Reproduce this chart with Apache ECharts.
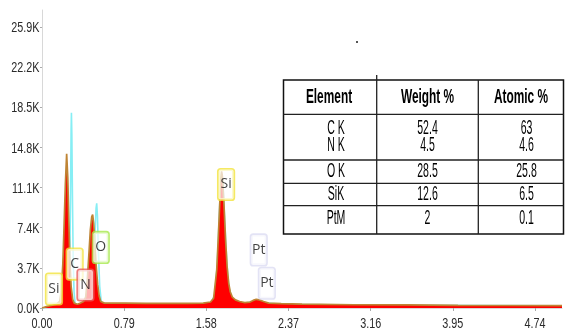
<!DOCTYPE html>
<html>
<head>
<meta charset="utf-8">
<script src="https://cdn.jsdelivr.net/npm/echarts@6/dist/echarts.min.js"></script>
<style>
html,body{margin:0;padding:0;background:#fff;}
#chart{width:566px;height:334px;}
</style>
</head>
<body>
<div id="chart"></div>
<script>
// ---- data (energy in keV, counts in thousands) ----
const redEnergy = [0.00,0.05,0.10,0.14,0.17,0.185,0.20,0.212,0.225,0.237,0.248,0.258,0.268,0.28,0.295,0.31,0.34,0.37,0.40,0.42,0.435,0.45,0.465,0.478,0.487,0.497,0.508,0.52,0.535,0.55,0.565,0.60,0.70,0.80,1.00,1.20,1.40,1.55,1.62,1.65,1.68,1.695,1.71,1.72,1.727,1.735,1.75,1.765,1.78,1.795,1.81,1.83,1.86,1.90,1.95,2.00,2.03,2.06,2.09,2.13,2.18,2.30,2.50,3.00,3.50,4.00,4.50,5.00];
const redCounts = [0.0,0.15,0.25,0.35,0.6,1.5,4.0,7.5,11.5,14.2,12.0,8.0,4.5,2.0,0.8,0.45,0.35,0.45,0.6,1.0,2.5,4.8,7.2,8.4,8.6,7.8,6.0,4.0,2.2,1.1,0.6,0.45,0.45,0.45,0.42,0.42,0.42,0.45,0.55,0.9,3.5,6.5,9.8,12.0,12.6,12.1,9.5,6.3,3.8,2.3,1.5,1.0,0.75,0.6,0.5,0.55,0.7,0.8,0.75,0.6,0.45,0.4,0.35,0.3,0.28,0.25,0.23,0.22];

const cyanEnergy = [0.00,0.10,0.20,0.25,0.26,0.268,0.275,0.28,0.283,0.287,0.293,0.30,0.308,0.318,0.35,0.40,0.45,0.48,0.495,0.508,0.52,0.526,0.533,0.543,0.555,0.57,0.60,1.00,1.50,1.62,1.66,1.685,1.70,1.715,1.728,1.74,1.755,1.77,1.785,1.80,1.82,1.86,1.95,2.03,2.07,2.12,2.30,3.00,5.00];
const cyanCounts = [0.0,0.15,0.25,0.5,1.5,5.0,11.0,16.5,18.0,16.0,10.0,4.5,1.5,0.4,0.2,0.2,0.3,0.8,3.0,6.5,9.2,9.65,8.5,5.0,2.0,0.6,0.3,0.3,0.3,0.4,1.2,4.0,7.5,11.0,12.4,11.5,8.5,5.5,3.2,1.8,1.0,0.55,0.45,0.6,0.65,0.5,0.35,0.28,0.2];

const peakNames = ['Si','C','N','O','Si','Pt','Pt'];
const peakEnergy = [0.115,0.314,0.418,0.565,1.770,2.084,2.162];
const peakCount = [1.75,4.05,2.12,5.58,11.38,5.35,2.28];
const peakBorderColors = ['#f2e43c','#f2e43c','#e85a5a','#a8e84c','#f2e43c','#dcdcf2','#dcdcf2'];

const xTickValues = [0, 0.79, 1.58, 2.37, 3.16, 3.95, 4.74];
const xTickLabels = ['0.00','0.79','1.58','2.37','3.16','3.95','4.74'];
const yTickValues = [0, 3.7, 7.4, 11.1, 14.8, 18.5, 22.2, 25.9];
const yTickLabels = ['0.0K','3.7K','7.4K','11.1K','14.8K','18.5K','22.2K','25.9K'];

const tableHeader = ['Element','Weight %','Atomic %'];
const tableElements = ['C K','N K','O K','SiK','PtM'];
const tableWeight = ['52.4','4.5','28.5','12.6','2'];
const tableAtomic = ['63','4.6','25.8','6.5','0.1'];

// ---- build ----
const redData = redEnergy.map((e,i)=>[e, redCounts[i]]);
const cyanData = cyanEnergy.map((e,i)=>[e, cyanCounts[i]]);
const peakData = peakNames.map((n,i)=>({
  name:n, value:[peakEnergy[i], peakCount[i]],
  label:{borderColor: peakBorderColors[i]}
}));

const sans = '"Liberation Sans",Arial,sans-serif';

const chart = echarts.init(document.getElementById('chart'), null, {renderer:'canvas'});
chart.setOption({
  animation:false,
  backgroundColor:'#fff',
  grid:{left:42, right:4, top:10, bottom:26},
  xAxis:{
    type:'value', min:0, max:5.0,
    axisLine:{show:true, lineStyle:{color:'#d8d8d8', width:1}},
    axisTick:{show:true, length:3, lineStyle:{color:'#aaa'}, customValues:xTickValues},
    axisLabel:{show:false},
    splitLine:{show:false}
  },
  yAxis:{
    type:'value', min:0, max:27.46,
    axisLine:{show:true, lineStyle:{color:'#d8d8d8', width:1}},
    axisTick:{show:true, length:2, lineStyle:{color:'#aaa'}, customValues:yTickValues},
    axisLabel:{show:false},
    splitLine:{show:false}
  },
  series:[
    {type:'line', name:'ref', data:cyanData, symbol:'none', z:2,
     lineStyle:{color:'#86eef4', width:1.6}},
    {type:'line', name:'spectrum', data:redData, symbol:'none', z:3,
     lineStyle:{color:'#bf8434', width:1.7},
     areaStyle:{color:'#ff0000', opacity:1}},
    {type:'scatter', name:'peaks', data:peakData, symbolSize:1, z:5,
     itemStyle:{color:'transparent'},
     label:{show:true, position:'inside', formatter:'{b}', color:'#111',
       fontSize:14, fontFamily:'"Open Sans","Noto Sans",sans-serif',
       backgroundColor:'rgba(255,255,255,0.88)', borderWidth:1.6, borderRadius:2,
       width:13, height:28, lineHeight:28, align:'center', verticalAlign:'middle', padding:[1,1]}}
  ]
});

// ---- graphics: condensed tick labels (placed by the axis scale) and the table ----
const g = [];
xTickValues.forEach((v,i)=>{
  const p = chart.convertToPixel({gridIndex:0}, [v, 0]);
  g.push({type:'text', x:p[0], y:p[1]+16, scaleX:0.72, z:20,
    style:{text:xTickLabels[i], font:'15px '+sans, fill:'#2a2a2a', align:'center', verticalAlign:'middle'}});
});
yTickValues.forEach((v,i)=>{
  const p = chart.convertToPixel({gridIndex:0}, [0, v]);
  g.push({type:'text', x:p[0]-2.5, y:p[1]+1, scaleX:0.72, z:20,
    style:{text:yTickLabels[i], font:'15px '+sans, fill:'#2a2a2a', align:'right', verticalAlign:'middle'}});
});

const T = {x0:283.5, x1:563.5, y0:80, y1:234, c1:376.7, c2:478.3, rows:[114.3,160,183.3,205.7]};
g.push({type:'rect', shape:{x:T.x0,y:T.y0,width:T.x1-T.x0,height:T.y1-T.y0}, style:{fill:'#fff',stroke:'#111',lineWidth:1.5}, z:10});
T.rows.forEach(y=>g.push({type:'line', shape:{x1:T.x0,y1:y,x2:T.x1,y2:y}, style:{stroke:'#222',lineWidth:1.3}, z:11}));
g.push({type:'line', shape:{x1:T.c1,y1:75,x2:T.c1,y2:T.y1}, style:{stroke:'#222',lineWidth:1.3}, z:11});
g.push({type:'line', shape:{x1:T.c2,y1:T.y0,x2:T.c2,y2:T.y1}, style:{stroke:'#222',lineWidth:1.3}, z:11});
g.push({type:'rect', shape:{x:356,y:41,width:2,height:2}, style:{fill:'#555'}, z:11});
const colX = [329, 427.5, 521];
const valX = [336, 427.5, 526.5];
const rowY = [128.5, 145.5, 171.7, 194.5, 218.3];
tableHeader.forEach((t,i)=>g.push({type:'text', x:colX[i], y:97, scaleX:0.66, scaleY:1.12, z:12,
  style:{text:t, font:'bold 18px '+sans, fill:'#000', align:'center', verticalAlign:'middle'}}));
const cols = [tableElements, tableWeight, tableAtomic];
cols.forEach((arr,c)=>arr.forEach((t,r)=>g.push({type:'text', x:valX[c], y:rowY[r], scaleX:0.62, scaleY:1.15, z:12,
  style:{text:t, font:'17px '+sans, fill:'#000', align:'center', verticalAlign:'middle'}})));

chart.setOption({graphic:g});
</script>
</body>
</html>
